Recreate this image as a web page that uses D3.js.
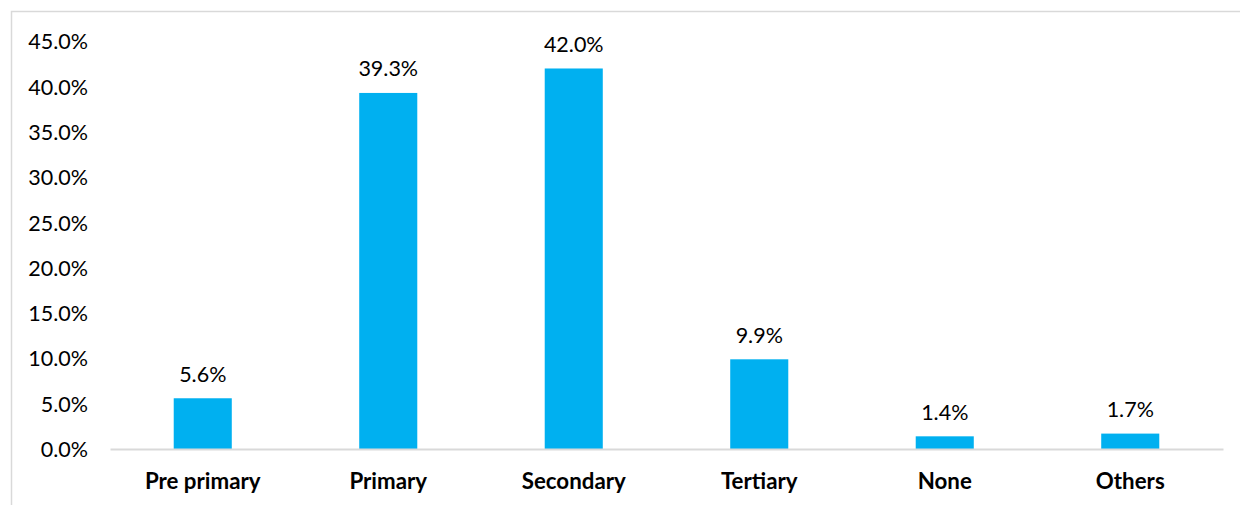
<!DOCTYPE html>
<html>
<head>
<meta charset="utf-8">
<script src="https://cdn.jsdelivr.net/npm/d3@7"></script>
<style>
  html, body { margin: 0; padding: 0; background: #fff; }
  svg { display: block; }
</style>
</head>
<body>
<svg id="chart" width="1240" height="505"></svg>
<script>
// Education level shares (%)
const categories = ["Pre primary", "Primary", "Secondary", "Tertiary", "None", "Others"];
const values = [5.6, 39.3, 42.0, 9.9, 1.4, 1.7];
const yTicks = [0, 5, 10, 15, 20, 25, 30, 35, 40, 45];

const svg = d3.select("#chart");
const font = "Lato, 'Liberation Sans', sans-serif";

// chart frame
svg.append("rect")
  .attr("x", 11.5).attr("y", 11.5)
  .attr("width", 1260).attr("height", 520)
  .attr("fill", "none")
  .attr("stroke", "#d9d9d9")
  .attr("stroke-width", 1.5);

const plot = { left: 110, right: 1223, top: 41.3, bottom: 449 };

const x = d3.scaleBand()
  .domain(categories)
  .range([plot.left, plot.right])
  .padding(0);

const y = d3.scaleLinear()
  .domain([0, 45])
  .range([plot.bottom, plot.top]);

const barW = x.bandwidth() * 0.313;

// y axis labels
const yAxis = d3.axisLeft(y)
  .tickValues(yTicks)
  .tickFormat(d => d.toFixed(1) + "%")
  .tickSize(0)
  .tickPadding(0);

const gy = svg.append("g")
  .attr("transform", `translate(88,0)`)
  .call(yAxis);
gy.select(".domain").remove();
gy.selectAll("text")
  .attr("font-family", font)
  .attr("font-size", 21.5)
  .attr("fill", "#000")
  .attr("dy", "0.35em");

// bars
svg.append("g").selectAll("rect")
  .data(values)
  .join("rect")
  .attr("x", (d, i) => x(categories[i]) + (x.bandwidth() - barW) / 2)
  .attr("y", d => y(d))
  .attr("width", barW)
  .attr("height", d => y(0) - y(d))
  .attr("fill", "#00b0f0");

// x axis baseline and category labels
const xAxis = d3.axisBottom(x).tickSize(0).tickPadding(0);
const gx = svg.append("g")
  .attr("transform", `translate(0,${plot.bottom})`)
  .call(xAxis);
gx.select(".domain")
  .attr("stroke", "#d9d9d9")
  .attr("stroke-width", 2);
gx.selectAll("text")
  .attr("font-family", font)
  .attr("font-weight", "bold")
  .attr("font-size", 22.3)
  .attr("fill", "#000")
  .attr("y", 32)
  .attr("dy", "0.35em");

// value labels
svg.append("g").selectAll("text")
  .data(values)
  .join("text")
  .attr("x", (d, i) => x(categories[i]) + x.bandwidth() / 2)
  .attr("y", d => y(d) - 24)
  .attr("dy", "0.35em")
  .attr("text-anchor", "middle")
  .attr("font-family", font)
  .attr("font-size", 21.5)
  .attr("fill", "#000")
  .text(d => d.toFixed(1) + "%");
</script>
</body>
</html>
